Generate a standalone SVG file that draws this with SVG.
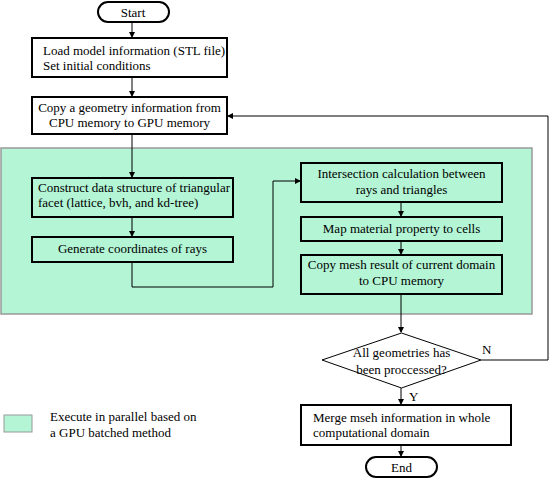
<svg xmlns="http://www.w3.org/2000/svg" width="550" height="480" viewBox="0 0 550 480">
<style>
.box{fill:#fff;stroke:#000;stroke-width:2}
.gbox{fill:#b3f5d5;stroke:#000;stroke-width:2}
.c{text-anchor:middle}
.ln{fill:none;stroke:#000;stroke-width:1}
</style>
<defs>
<marker id="ah" markerWidth="6" markerHeight="6" refX="5" refY="3" orient="auto" markerUnits="userSpaceOnUse">
<path d="M0,0 L6,3 L0,6 z" fill="#000"/>
</marker>
</defs>
<rect id="gpu-region" x="1" y="148" width="531" height="166" fill="#b3f5d5" stroke="#999" stroke-width="1.5"/>
<g id="connectors">
<line class="ln" x1="132" y1="23" x2="132" y2="37" marker-end="url(#ah)"/>
<line class="ln" x1="132" y1="78" x2="132" y2="96" marker-end="url(#ah)"/>
<line class="ln" x1="132" y1="135" x2="132" y2="177" marker-end="url(#ah)"/>
<line class="ln" x1="132" y1="218" x2="132" y2="236" marker-end="url(#ah)"/>
<polyline class="ln" points="132,263 132,287 273,287 273,181 300,181" marker-end="url(#ah)"/>
<line class="ln" x1="401" y1="203" x2="401" y2="216" marker-end="url(#ah)"/>
<line class="ln" x1="401" y1="242" x2="401" y2="254" marker-end="url(#ah)"/>
<line class="ln" x1="401" y1="295" x2="401" y2="332" marker-end="url(#ah)"/>
<polyline class="ln" points="481,360 548,360 548,116 228,116" marker-end="url(#ah)"/>
<line class="ln" x1="401" y1="388" x2="401" y2="404" marker-end="url(#ah)"/>
<line class="ln" x1="401" y1="446" x2="401" y2="456" marker-end="url(#ah)"/>
<text font-family="Liberation Serif" font-size="13" x="482" y="354">N</text>
<text font-family="Liberation Serif" font-size="13" x="409" y="401">Y</text>
</g>
<g id="start">
<rect class="box" x="98" y="2" width="71" height="20" rx="10"/>
<text font-family="Liberation Serif" font-size="13" class="c" x="133" y="17">Start</text>
</g>
<g id="load">
<rect class="box" x="32" y="38" width="195" height="39"/>
<text font-family="Liberation Serif" font-size="13" x="43" y="55">Load model information (STL file)</text>
<text font-family="Liberation Serif" font-size="13" x="43" y="70">Set initial conditions</text>
</g>
<g id="copy-geo">
<rect class="box" x="32" y="97" width="195" height="37"/>
<text font-family="Liberation Serif" font-size="13" class="c" x="129.5" y="112">Copy a geometry information from</text>
<text font-family="Liberation Serif" font-size="13" class="c" x="129.5" y="127">CPU memory to GPU memory</text>
</g>
<g id="construct">
<rect class="gbox" x="32" y="178" width="201" height="39"/>
<text font-family="Liberation Serif" font-size="13" x="38" y="192">Construct data structure of triangular</text>
<text font-family="Liberation Serif" font-size="13" x="38" y="207">facet (lattice, bvh, and kd-tree)</text>
</g>
<g id="generate">
<rect class="gbox" x="32" y="237" width="201" height="25"/>
<text font-family="Liberation Serif" font-size="13" class="c" x="132.5" y="253">Generate coordinates of rays</text>
</g>
<g id="intersect">
<rect class="gbox" x="301" y="163" width="201" height="39"/>
<text font-family="Liberation Serif" font-size="13" class="c" x="401.5" y="178">Intersection calculation between</text>
<text font-family="Liberation Serif" font-size="13" class="c" x="401.5" y="194">rays and triangles</text>
</g>
<g id="map">
<rect class="gbox" x="301" y="217" width="201" height="24"/>
<text font-family="Liberation Serif" font-size="13" class="c" x="401.5" y="233">Map material property to cells</text>
</g>
<g id="copy-mesh">
<rect class="gbox" x="301" y="255" width="201" height="39"/>
<text font-family="Liberation Serif" font-size="13" class="c" x="401.5" y="269">Copy mesh result of current domain</text>
<text font-family="Liberation Serif" font-size="13" class="c" x="401.5" y="285">to CPU memory</text>
</g>
<g id="decision">
<polygon points="322,360 401.5,333 481,360 401.5,388" fill="#fff" stroke="#000" stroke-width="1"/>
<text font-family="Liberation Serif" font-size="13" class="c" x="401.5" y="357">All geometries has</text>
<text font-family="Liberation Serif" font-size="13" class="c" x="401.5" y="374">been proccessed?</text>
</g>
<g id="merge">
<rect class="box" x="301" y="405" width="210" height="40"/>
<text font-family="Liberation Serif" font-size="13" x="313" y="422">Merge mseh information in whole</text>
<text font-family="Liberation Serif" font-size="13" x="313" y="437">computational domain</text>
</g>
<g id="end">
<rect class="box" x="366" y="457" width="71" height="20" rx="10"/>
<text font-family="Liberation Serif" font-size="13" class="c" x="401.5" y="472">End</text>
</g>
<g id="legend">
<rect x="4" y="415" width="28" height="17" fill="#b3f5d5" stroke="#999" stroke-width="1"/>
<text font-family="Liberation Serif" font-size="13" x="50" y="421">Execute in parallel based on</text>
<text font-family="Liberation Serif" font-size="13" x="50" y="437">a GPU batched method</text>
</g>
</svg>
